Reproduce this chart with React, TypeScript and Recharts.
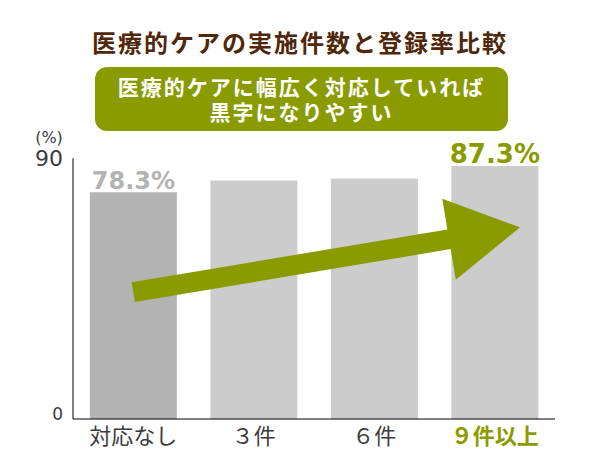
import React from 'react';
import { BarChart, Bar, XAxis, YAxis, Cell, LabelList, ReferenceLine } from 'recharts';

const categories = ['対応なし', '３件', '６件', '９件以上'];
const rates = [78.3, 82.3, 83.0, 87.3];
const valueLabels = ['78.3%', '', '', '87.3%'];
const yTicks = [0, 90];
const arrowStart = { category: '対応なし', value: 43.8 };
const arrowEnd = { category: '９件以上', value: 64.7 };
const titleText = '医療的ケアの実施件数と登録率比較';
const calloutLines = ['医療的ケアに幅広く対応していれば', '黒字になりやすい'];

const data = categories.map((c, i) => ({ name: c, rate: rates[i], label: valueLabels[i] }));

const OLIVE = '#8a9b00';
const BROWN = '#4f2709';
const CJK = '"Noto Sans CJK JP", "Noto Sans", sans-serif';
const NUM = '"DejaVu Sans", sans-serif';

const YTick = (props: any) => {
  const { x, y, payload } = props;
  if (payload.value === 90) {
    return (
      <g>
        <text x={x - 14} y={y - 21} textAnchor="middle" dominantBaseline="central" fontSize={16} fill="#3c3c3c" fontFamily={NUM}>(%)</text>
        <text x={x} y={y} textAnchor="end" dominantBaseline="central" fontSize={22} fill="#3c3c3c" fontFamily={NUM}>90</text>
      </g>
    );
  }
  return (
    <text x={x} y={y - 5.5} textAnchor="end" dominantBaseline="central" fontSize={17} fill="#3c3c3c" fontFamily={NUM}>{payload.value}</text>
  );
};

const XTick = (props: any) => {
  const { x, y, payload } = props;
  const last = payload.value === categories[categories.length - 1];
  return (
    <text x={x} y={y + 15} textAnchor="middle" dominantBaseline="central" fontSize={22}
      fontWeight={last ? 'bold' : 'normal'} fill={last ? OLIVE : '#3c3c3c'} fontFamily={CJK}>
      {payload.value}
    </text>
  );
};

const ValueLabel = (props: any) => {
  const { x, y, width, value } = props;
  if (!value) return null;
  const last = value === valueLabels[valueLabels.length - 1];
  return (
    <text x={x + width / 2} y={y - 3} textAnchor="middle" fontSize={last ? 26 : 24} fontWeight="bold"
      fill={last ? OLIVE : '#b3b3b3'} fontFamily={NUM}>{value}</text>
  );
};

const ArrowShape = (props: any) => {
  const { x1, y1, x2, y2 } = props;
  if (x1 == null || x2 == null) return null;
  const dx = x2 - x1;
  const dy = y2 - y1;
  const len = Math.sqrt(dx * dx + dy * dy);
  const ux = dx / len;
  const uy = dy / len;
  const px = -uy;
  const py = ux;
  const total = len * 1.07;
  const headLen = 72;
  const shaftHalf = 10;
  const headHalf = 41;
  const tipX = x1 + ux * total;
  const tipY = y1 + uy * total;
  const bx = x1 + ux * (total - headLen);
  const by = y1 + uy * (total - headLen);
  const pts = [
    [x1 + px * shaftHalf, y1 + py * shaftHalf],
    [bx + px * shaftHalf, by + py * shaftHalf],
    [bx + px * headHalf, by + py * headHalf],
    [tipX, tipY],
    [bx - px * headHalf, by - py * headHalf],
    [bx - px * shaftHalf, by - py * shaftHalf],
    [x1 - px * shaftHalf, y1 - py * shaftHalf],
  ];
  return <polygon points={pts.map((p) => p.join(',')).join(' ')} fill={OLIVE} />;
};

export default function App() {
  return (
    <div style={{ position: 'absolute', left: 0, top: 0, width: 600, height: 450, background: '#fff' }}>
      <div style={{ position: 'absolute', left: 0, top: 28, width: 600, textAlign: 'center', fontFamily: CJK,
        fontWeight: 'bold', fontSize: 24, letterSpacing: 2, color: BROWN, lineHeight: '28px' }}>
        {titleText}
      </div>
      <div style={{ position: 'absolute', left: 95, top: 67, width: 413, height: 64, borderRadius: 12,
        background: OLIVE, color: '#fff', fontFamily: CJK, fontWeight: 600, fontSize: 21, letterSpacing: 2,
        textAlign: 'center', lineHeight: '25px', paddingTop: 7, boxSizing: 'border-box' }}>
        {calloutLines.map((l) => <div key={l}>{l}</div>)}
      </div>
      <div style={{ position: 'absolute', left: 0, top: 0 }}>
        <BarChart width={600} height={450} data={data} margin={{ top: 158.3, right: 45, bottom: 0, left: 0 }}
          barCategoryGap="14%">
          <XAxis dataKey="name" axisLine={{ stroke: '#000' }} tickLine={false} tickSize={0} tickMargin={0}
            height={31} tick={<XTick />} interval={0} />
          <YAxis domain={[0, 90]} ticks={yTicks} axisLine={{ stroke: '#000' }} tickLine={false} tickSize={0}
            tickMargin={10} width={73} tick={<YTick />} />
          <Bar dataKey="rate" isAnimationActive={false}>
            {data.map((d, i) => (
              <Cell key={d.name} fill={i === 0 ? '#b3b3b3' : '#cccccc'} />
            ))}
            <LabelList dataKey="label" content={<ValueLabel />} />
          </Bar>
          <ReferenceLine
            segment={[{ x: arrowStart.category, y: arrowStart.value }, { x: arrowEnd.category, y: arrowEnd.value }]}
            shape={(p: any) => <ArrowShape {...p} />}
            ifOverflow="visible"
          />
        </BarChart>
      </div>
    </div>
  );
}
